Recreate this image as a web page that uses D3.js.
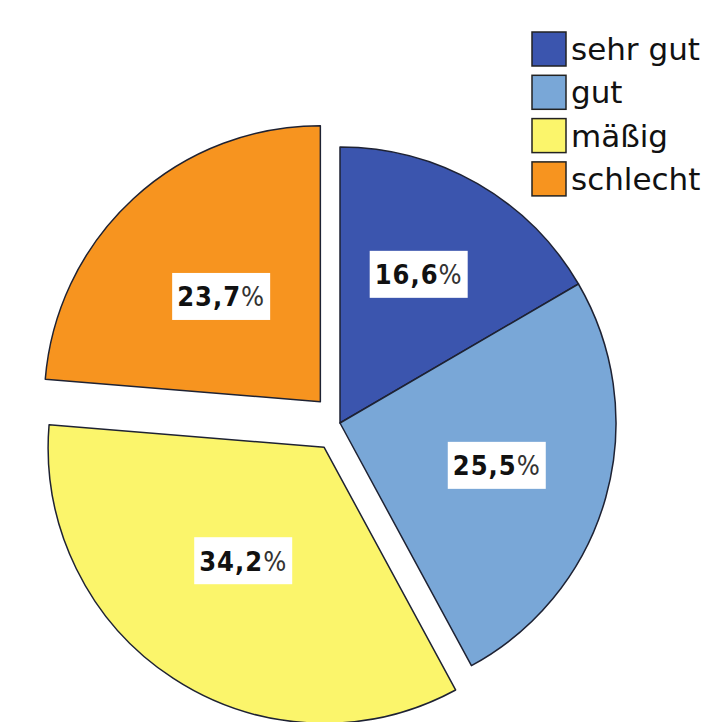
<!DOCTYPE html>
<html>
<head>
<meta charset="utf-8">
<script src="https://cdn.jsdelivr.net/npm/d3@7"></script>
<style>
  body { margin: 0; background: #fff; }
  svg { display: block; }
</style>
</head>
<body>
<div id="chart"></div>
<script>
// Data
const categories = ['sehr gut', 'gut', 'mäßig', 'schlecht'];
const percents = [16.6, 25.5, 34.2, 23.7];
const exploded = [false, false, true, true];
const colors = ['#3b55ae', '#79a7d7', '#fbf56b', '#f7941f'];

const width = 707, height = 722;
const cx = 340, cy = 423;
const radius = 276;
const explodeBy = 29;

const svg = d3.select('#chart')
    .append('svg')
    .attr('width', width)
    .attr('height', height);

const pie = d3.pie().sort(null).value(d => d.value);
const arcs = pie(categories.map((c, i) => ({ name: c, value: percents[i], i })));

const arc = d3.arc().innerRadius(0).outerRadius(radius);
const labelArc = d3.arc().innerRadius(168).outerRadius(168);

const g = svg.append('g').attr('transform', `translate(${cx},${cy})`);

// Offset for exploded slices
const offset = d => {
    if (!exploded[d.data.i]) return [0, 0];
    const a = (d.startAngle + d.endAngle) / 2;
    return [Math.sin(a) * explodeBy, -Math.cos(a) * explodeBy];
};

g.selectAll('path.slice')
    .data(arcs)
    .join('path')
    .attr('class', 'slice')
    .attr('d', arc)
    .attr('transform', d => `translate(${offset(d)})`)
    .attr('fill', d => colors[d.data.i])
    .attr('stroke', '#1e2233')
    .attr('stroke-width', 1.5)
    .attr('stroke-linejoin', 'round');

// Labels with white boxes
const labels = g.selectAll('g.label')
    .data(arcs)
    .join('g')
    .attr('class', 'label')
    .attr('transform', d => {
        const [x, y] = labelArc.centroid(d);
        return `translate(${x - 5},${y - 3})`;
    });

labels.append('rect')
    .attr('fill', '#fff')
    .attr('x', -49)
    .attr('y', -23.5)
    .attr('width', 98)
    .attr('height', 47);

const txt = labels.append('text')
    .attr('text-anchor', 'middle')
    .attr('dy', '0.37em')
    .style('font-family', '"DejaVu Sans Condensed", "DejaVu Sans", sans-serif')
    .style('font-stretch', 'condensed')
    .style('font-size', '27px')
    .style('letter-spacing', '1px')
    .attr('fill', '#111');

txt.append('tspan')
    .style('font-weight', 'bold')
    .text(d => d.data.value.toFixed(1).replace('.', ','));
txt.append('tspan')
    .style('font-weight', 'normal')
    .attr('fill', '#333')
    .text('%');

// Legend
const legend = svg.append('g').attr('transform', 'translate(532,32)');
const item = legend.selectAll('g')
    .data(categories)
    .join('g')
    .attr('transform', (d, i) => `translate(0,${i * 43.3})`);

item.append('rect')
    .attr('width', 34)
    .attr('height', 34)
    .attr('fill', (d, i) => colors[i])
    .attr('stroke', '#222')
    .attr('stroke-width', 1.5);

item.append('text')
    .attr('x', 39)
    .attr('y', 17)
    .attr('dy', '0.36em')
    .style('font-family', '"DejaVu Sans", sans-serif')
    .style('font-size', '31px')
    .attr('fill', '#111')
    .text(d => d);
</script>
</body>
</html>
